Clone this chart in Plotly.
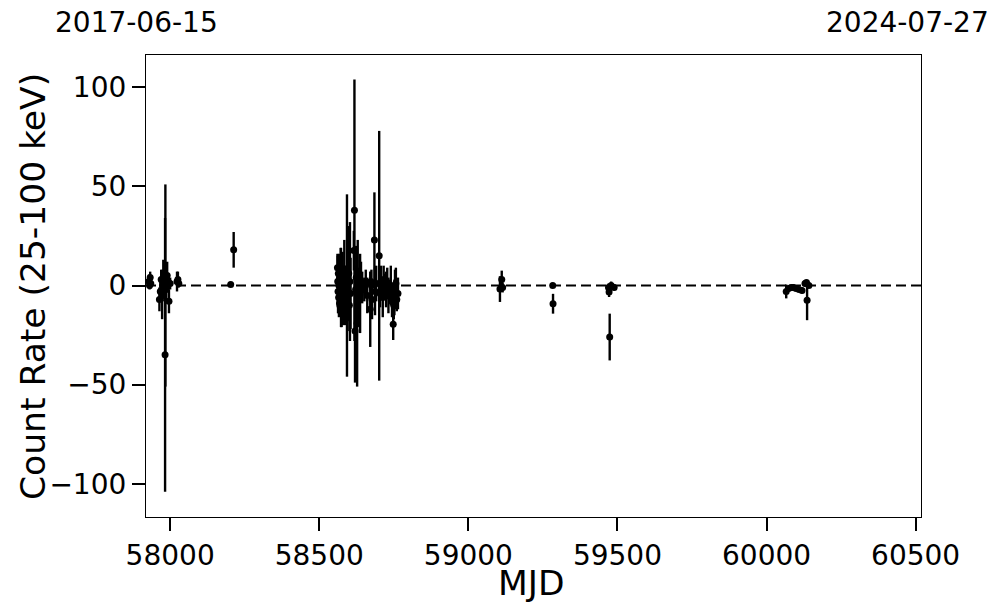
import plotly.graph_objects as go

# MJD, count rate (25-100 keV), 1-sigma error
mjd = [57929, 57931, 57933, 57935,
       57964, 57967, 57970, 57973, 57975, 57977, 57983, 57984, 57987, 57990, 57993, 57996, 58000,
       58023, 58026, 58029,
       58203, 58213,
       58561, 58562, 58563, 58564, 58565, 58566, 58567, 58568, 58569, 58570, 58572, 58573, 58574,
       58575, 58577, 58578, 58580, 58582, 58584, 58586, 58588, 58590, 58593, 58595, 58597, 58599,
       58601, 58603, 58605, 58616, 58618, 58620, 58622, 58624, 58627, 58629, 58632, 58634, 58637,
       58640, 58644, 58651, 58656, 58661, 58671, 58673, 58675, 58677, 58685, 58687, 58691, 58701,
       58704, 58707, 58710, 58713, 58716, 58719, 58724, 58728, 58732, 58736, 58740, 58744, 58748,
       58750, 58752, 58754, 58757, 58760, 58764,
       59106, 59112, 59115, 59283, 59284,
       59470, 59472, 59474, 59479, 59489,
       60066, 60074, 60082, 60090, 60099, 60109, 60119, 60129, 60134, 60136, 60142]
rate = [2.0, 0.0, 4.0, 1.0,
        -7.0, -3.0, 3.0, -5.0, 0.0, 4.0, -35.0, 0.0, -2.0, 5.0, 2.0, -8.0, 1.0,
        2.0, 3.0, 1.0,
        0.5, 18.0,
        9.0, 2.0, -3.0, 6.0, -6.0, 0.0, 3.0, -9.0, 1.0, -4.0, 7.0, -1.0, 2.0,
        -7.0, 4.0, 0.0, -11.0, -2.0, 5.0, -5.0, 1.0, -8.0, 0.0, 3.0, -3.0, 6.0,
        -10.0, 2.0, -4.0, 17.6, 38.0, -23.0, -2.0, 4.0, -19.0, 1.0, -6.0, 0.0, -4.0,
        2.0, -1.0, -2.0, 1.0, -5.0, -12.0, 2.0, 0.0, -7.0, 23.0, -3.0, 1.0, 15.0,
        -4.0, 2.0, -1.0, -6.0, 3.0, 0.0, -2.0, 1.0, -5.0, -3.0, 0.0, -8.0, -19.5,
        -10.0, -6.0, -2.0, 1.0, -7.0, -4.0,
        -1.8, 3.0, -1.0, 0.0, -9.2,
        -1.0, -3.3, -26.0, 0.0, -1.0,
        -3.0, -1.5, -1.0, -1.0, -1.5, -2.0, -2.5, 1.0, 1.5, -7.5, 0.0]
err = [3.5, 2.0, 3.0, 2.5,
       6.0, 5.0, 5.0, 12.0, 8.0, 9.0, 69.0, 51.0, 6.0, 7.0, 4.0, 6.0, 3.0,
       5.0, 4.0, 2.0,
       1.0, 9.0,
       7.0, 13.0, 11.0, 9.0, 8.0, 16.0, 10.0, 6.0, 14.0, 9.0, 12.0, 20.0, 8.0,
       14.0, 11.0, 17.0, 9.0, 12.0, 18.0, 15.0, 9.0, 10.0, 46.0, 20.0, 14.0, 24.0,
       13.0, 30.0, 18.0, 10.0, 66.0, 26.0, 12.0, 16.0, 32.0, 22.0, 14.0, 9.0, 20.0,
       10.0, 8.0, 6.0, 7.0, 9.0, 19.0, 5.0, 8.0, 10.0, 24.0, 12.0, 9.0, 63.0,
       7.0, 8.0, 5.0, 10.0, 7.0, 6.0, 9.0, 8.0, 9.0, 6.0, 10.0, 8.0, 8.0,
       7.0, 9.0, 10.0, 8.0, 6.0, 8.0,
       6.5, 4.5, 2.5, 0.8, 5.0,
       2.0, 2.5, 11.8, 2.0, 1.5,
       3.5, 1.5, 1.0, 1.5, 1.0, 1.0, 1.5, 1.5, 1.0, 10.0, 1.0]

x_ticks = [58000, 58500, 59000, 59500, 60000, 60500]
y_ticks = [100, 50, 0, -50, -100]
y_ticktext = ["100", "50", "0", "\u221250", "\u2212100"]
date_labels = ["2017-06-15", "2024-07-27"]
x_range = [57919, 60518]
y_range = [-116.8, 116.3]

FONT = "DejaVu Sans"

# plot area in page pixels (page body has an 8px margin)
PL, PR, PT, PB = 146, 921, 55, 517
PW, PH = PR - PL, PB - PT


def px(x):
    return (x - PL) / PW


def py(y):
    return (PB - y) / PH


fig = go.Figure()
fig.add_trace(go.Scatter(
    x=mjd, y=rate, mode="markers",
    marker=dict(color="black", size=7),
    error_y=dict(type="data", array=err, visible=True, color="black", thickness=2.4, width=0),
    showlegend=False,
))
fig.add_shape(type="line", xref="paper", yref="y", x0=0, x1=1, y0=0, y1=0,
              line=dict(color="black", width=2, dash="10px,5px"))

axis_common = dict(ticks="outside", ticklen=13, tickwidth=2.2, tickcolor="black",
                   showline=True, linecolor="black", linewidth=1.2, mirror=True,
                   showgrid=False, zeroline=False, tickfont=dict(size=28))

fig.update_layout(
    width=989, height=605,
    margin=dict(l=PL - 8, r=8 + 989 - PR, t=PT - 8, b=8 + 605 - PB),
    paper_bgcolor="white", plot_bgcolor="white",
    font=dict(family=FONT, color="black", size=28),
    xaxis=dict(range=x_range, tickvals=x_ticks, ticktext=[str(v) for v in x_ticks], **axis_common),
    yaxis=dict(range=y_range, tickvals=y_ticks, ticktext=y_ticktext, **axis_common),
    annotations=[
        dict(text=date_labels[0], xref="paper", yref="paper", x=px(136), y=py(22),
             xanchor="center", yanchor="middle", showarrow=False, font=dict(size=28)),
        dict(text=date_labels[1], xref="paper", yref="paper", x=px(907), y=py(22),
             xanchor="center", yanchor="middle", showarrow=False, font=dict(size=28)),
        dict(text="MJD", xref="paper", yref="paper", x=px(531), y=py(583),
             xanchor="center", yanchor="middle", showarrow=False, font=dict(size=34.5)),
        dict(text="Count Rate (25-100 keV)", xref="paper", yref="paper", x=px(33),
             y=py(287), xanchor="center", yanchor="middle", showarrow=False,
             textangle=-90, font=dict(size=34.5)),
    ],
)

fig.write_html("out.html")
